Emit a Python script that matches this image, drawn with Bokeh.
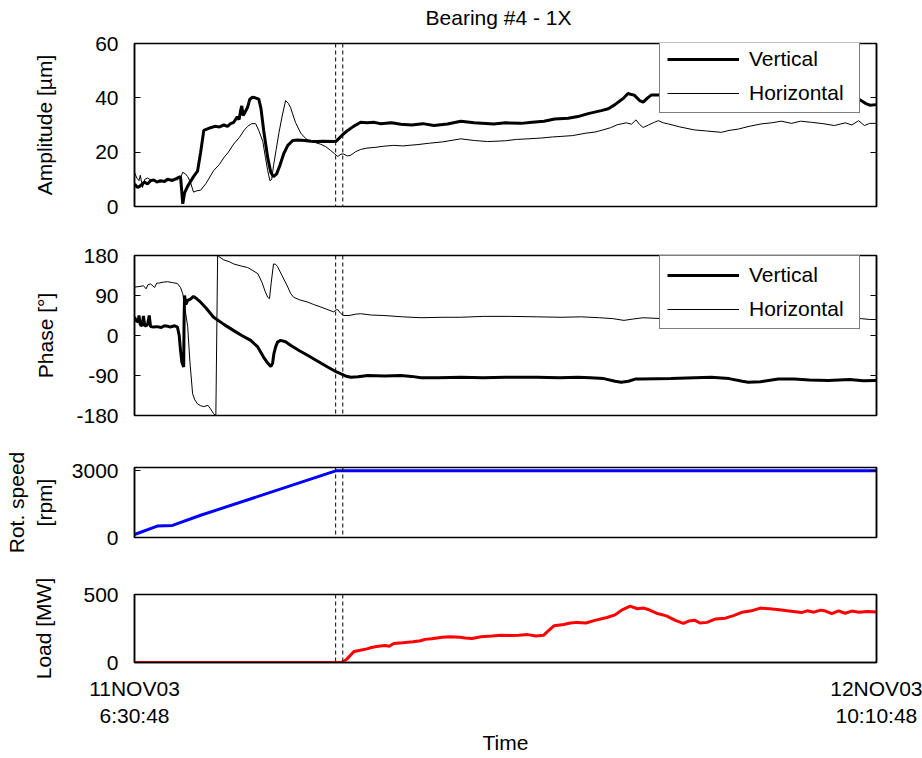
from bokeh.plotting import figure
from bokeh.layouts import column
from bokeh.models import Span, Range1d, FixedTicker, LinearAxis, Legend, LegendItem, Label
from bokeh.embed import file_html
from bokeh.resources import INLINE

FONT = "Liberation Sans"
FS = "21px"

# time axis: minutes since 11NOV03 6:30:48 (end 12NOV03 10:10:48 = 1660 min)
t_start, t_end = 0, 1660
x_tick_labels = {0: "11NOV03\n6:30:48", 1660: "12NOV03\n10:10:48"}
markers = [450, 466]
title_text = "Bearing #4 - 1X"

amp_v_t = [0, 7, 13, 22, 29, 36, 43, 50, 58, 67, 74, 85, 96, 103, 108, 112, 119, 132, 141, 148, 155, 162, 170, 180, 190, 200, 208, 215, 222, 230, 234, 237, 240, 243, 248, 253, 258, 264, 270, 278, 283, 289, 298, 305, 311, 318, 325, 334, 343, 354, 365, 380, 395, 410, 420, 450, 457, 466, 477, 490, 506, 520, 535, 550, 575, 596, 620, 645, 670, 700, 730, 760, 804, 830, 865, 890, 916, 940, 970, 992, 1015, 1044, 1060, 1075, 1082, 1095, 1104, 1112, 1118, 1130, 1138, 1148, 1156, 1174, 1200, 1260, 1350, 1450, 1550, 1620, 1635, 1645, 1660]
amp_v = [8.3, 7, 7.6, 9, 8.3, 9.5, 9.8, 9, 9.5, 9.2, 10, 9.6, 10.5, 11, 1, 5, 7.5, 11, 13, 20, 28, 28.5, 29, 29.5, 29.3, 30, 29.5, 30.5, 31, 33, 32, 35, 37, 33.5, 35, 36.5, 39.5, 40.2, 40, 39.5, 36, 28, 18, 12.5, 11, 12, 15, 19.5, 22.5, 24.3, 24.5, 24.3, 24, 23.9, 24, 23.9, 25, 26.5, 28, 29.5, 31, 30.8, 31, 30.5, 30.8, 30.3, 30, 30.5, 29.8, 30.4, 31.4, 30.8, 30.4, 30.8, 30.6, 31, 31.4, 32.2, 32.5, 33.1, 34.2, 35.3, 36, 37.5, 38.4, 40, 41.6, 41.2, 41, 39, 38.4, 40, 41, 41, 40, 39.5, 39.5, 39.5, 39.5, 39.6, 38, 37.3, 37.5]

amp_h_t = [0, 5, 10, 13, 18, 23, 29, 36, 43, 50, 58, 66, 74, 85, 96, 104, 108, 114, 119, 125, 132, 140, 148, 160, 177, 190, 200, 210, 222, 235, 245, 253, 262, 271, 278, 287, 293, 298, 303, 307, 311, 317, 323, 330, 338, 344, 349, 360, 372, 383, 394, 405, 417, 428, 439, 447, 455, 462, 468, 476, 484, 495, 506, 520, 540, 558, 580, 600, 634, 660, 690, 730, 760, 790, 804, 830, 855, 880, 910, 935, 954, 980, 1010, 1030, 1044, 1065, 1080, 1089, 1100, 1112, 1122, 1130, 1138, 1150, 1163, 1172, 1183, 1194, 1220, 1252, 1280, 1313, 1330, 1351, 1375, 1402, 1425, 1447, 1470, 1490, 1514, 1540, 1566, 1590, 1605, 1620, 1633, 1645, 1660]
amp_h = [12.6, 10.5, 9.5, 11.5, 7, 10, 10.5, 9.8, 9.5, 9.2, 9, 9.6, 9.5, 10, 9.8, 11, 12.6, 12, 11, 9, 5.3, 5.8, 6, 8.5, 13.2, 15.5, 18, 20, 23, 25.5, 28, 29.5, 30.5, 30.5, 28, 24, 18, 13.2, 9.5, 10, 15, 21, 27, 33, 39, 38, 36.5, 31, 27, 25, 24, 23.5, 22.9, 22, 20.6, 19.5, 18.4, 19.3, 19.3, 18.6, 18.9, 20.2, 21, 21.5, 21.8, 22.2, 22.5, 22.3, 22.8, 23.3, 23.8, 24.9, 24.3, 23.9, 24, 24.2, 24.7, 24.9, 25.2, 25.6, 25.8, 26.1, 27, 27.4, 28, 29, 30.1, 30.4, 30.8, 30.3, 31.9, 30.2, 29.1, 30, 31, 31.6, 30.8, 30.4, 29.3, 28.2, 27.8, 27.3, 28, 28.5, 29.5, 30.4, 30.8, 31.4, 30.6, 31.4, 31, 30.5, 29.8, 30.8, 30, 31.6, 29.8, 30.6, 30.6]

ph_v_t = [0, 4, 8, 10, 13, 17, 20, 23, 29, 33, 36, 43, 50, 60, 67, 74, 80, 90, 96, 100, 103, 106, 110, 111, 112, 115, 119, 125, 132, 140, 148, 160, 177, 200, 222, 240, 260, 275, 289, 298, 305, 309, 312, 316, 320, 327, 338, 349, 370, 388, 410, 432, 448, 461, 472, 484, 500, 522, 560, 596, 620, 641, 680, 730, 780, 830, 900, 950, 992, 1020, 1050, 1075, 1089, 1105, 1120, 1134, 1200, 1290, 1330, 1360, 1373, 1400, 1440, 1476, 1510, 1552, 1600, 1630, 1660]
ph_v = [41, 33, 30, 45, 24, 22, 44, 21, 24, 45, 20, 19, 20, 18, 22, 21, 19, 22, 19, 0, -34, -60, -71, 40, 90, 70, 79, 82, 88, 82, 75, 62, 41, 25, 11, 0, -11, -25, -49, -62, -70, -62, -40, -25, -15, -11, -14, -22, -35, -45, -58, -71, -80, -86, -91, -94, -93, -90, -91, -90, -92, -95, -95, -94, -95, -94, -94, -95, -94, -95, -97, -103, -105, -103, -98, -98, -97, -94, -97, -103, -105, -104, -98, -98, -100, -101, -99, -102, -101]

ph_h_t = [0, 10, 20, 26, 30, 36, 45, 50, 55, 64, 74, 85, 96, 103, 108, 113, 119, 124, 130, 135, 141, 148, 155, 164, 170, 177, 182, 186, 188, 200, 212, 222, 240, 253, 265, 276, 285, 292, 298, 302, 306, 311, 316, 320, 330, 343, 349, 356, 370, 388, 400, 417, 430, 446, 451, 455, 461, 468, 480, 495, 506, 530, 558, 600, 641, 690, 730, 780, 842, 900, 954, 1000, 1040, 1070, 1095, 1115, 1138, 1180, 1250, 1320, 1400, 1500, 1580, 1626, 1645, 1660]
ph_h = [109, 110, 112, 105, 114, 116, 108, 118, 118, 120, 121, 119, 117, 108, 94, 60, 20, -60, -131, -145, -154, -158, -160, -157, -165, -176, -180, 180, 178, 170, 166, 161, 156, 153, 146, 139, 120, 100, 86, 83, 120, 161, 160, 155, 135, 109, 95, 86, 80, 75, 70, 64, 59, 53, 58, 58, 50, 45, 45, 48, 49, 46, 45, 42, 40, 41, 41, 43, 43, 42, 41, 42, 40, 38, 34, 37, 40, 38, 38, 37, 36, 38, 38, 38, 36, 36]

speed_t = [0, 51, 85, 148, 450, 1660]
speed = [136, 514, 545, 1000, 3000, 3000]

load_t = [0, 460, 466, 475, 491, 505, 520, 530, 542, 560, 570, 580, 600, 623, 640, 650, 665, 688, 705, 728, 740, 755, 775, 800, 820, 840, 860, 880, 898, 915, 925, 939, 960, 975, 990, 1010, 1030, 1057, 1075, 1090, 1109, 1125, 1140, 1149, 1170, 1190, 1210, 1228, 1240, 1254, 1265, 1281, 1300, 1322, 1340, 1360, 1380, 1400, 1420, 1438, 1460, 1492, 1505, 1520, 1535, 1546, 1560, 1575, 1590, 1605, 1620, 1640, 1660]
load = [0, 0, 3, 25, 81, 90, 100, 110, 117, 125, 120, 140, 145, 152, 160, 170, 175, 186, 190, 186, 180, 176, 190, 195, 200, 199, 200, 205, 195, 200, 230, 271, 280, 290, 295, 290, 310, 331, 350, 385, 414, 395, 400, 390, 360, 343, 310, 288, 305, 310, 290, 295, 320, 326, 345, 370, 380, 400, 395, 390, 380, 367, 380, 370, 385, 378, 360, 380, 362, 378, 370, 375, 371]


def make_fig(height, top, bottom, yr, yticks, ylabel, label_standoff, show_x=False):
    p = figure(width=922, height=height, output_backend="svg", toolbar_location=None,
               x_range=Range1d(t_start, t_end), y_range=Range1d(*yr),
               min_border_left=134, min_border_right=46, min_border_top=top,
               min_border_bottom=bottom)
    p.grid.visible = False
    p.outline_line_color = "black"
    p.outline_line_width = 1.5
    p.outline_line_alpha = 1
    ya = p.yaxis[0]
    ya.ticker = FixedTicker(ticks=yticks)
    ya.major_label_overrides = {t: str(t) for t in yticks}
    ya.minor_tick_line_color = None
    ya.major_tick_in = 6
    ya.major_tick_out = 0
    ya.major_label_standoff = 16
    ya.major_label_text_font = FONT
    ya.major_label_text_font_size = FS
    ya.major_label_text_color = "black"
    ya.axis_label = ylabel
    ya.axis_label_text_font = FONT
    ya.axis_label_text_font_size = FS
    ya.axis_label_text_font_style = "normal"
    ya.axis_label_text_color = "black"
    ya.axis_label_standoff = label_standoff
    ya.axis_line_color = "black"
    ya.axis_line_width = 1.5
    ra = LinearAxis(ticker=FixedTicker(ticks=yticks), major_label_text_color=None,
                    major_label_text_font_size="1px",
                    major_tick_in=6, major_tick_out=0, minor_tick_line_color=None,
                    axis_line_color="black", axis_line_width=1.5, major_label_standoff=0)
    p.add_layout(ra, "right")
    xa = p.xaxis[0]
    if show_x:
        xa.ticker = FixedTicker(ticks=[t_start, t_end])
        xa.major_label_overrides = x_tick_labels
        xa.major_tick_in = 0
        xa.major_tick_out = 0
        xa.minor_tick_line_color = None
        xa.major_label_standoff = 14
        xa.major_label_text_font = FONT
        xa.major_label_text_font_size = FS
        xa.major_label_text_color = "black"
        xa.axis_label = "Time"
        xa.axis_label_text_font = FONT
        xa.axis_label_text_font_size = FS
        xa.axis_label_text_font_style = "normal"
        xa.axis_label_text_color = "black"
        xa.axis_label_standoff = 1
        xa.axis_line_color = "black"
        xa.axis_line_width = 1.5
    else:
        xa.visible = False
    for m in markers:
        p.add_layout(Span(location=m, dimension="height", line_color="black",
                          line_width=1, line_dash="4 3"))
    return p


def add_legend(p, rv, rh, loc):
    lg = Legend(items=[LegendItem(label="Vertical", renderers=[rv]),
                       LegendItem(label="Horizontal", renderers=[rh])],
                location=loc, border_line_color="black", border_line_width=1,
                background_fill_color="white", background_fill_alpha=1,
                label_text_font=FONT, label_text_font_size=FS, label_text_color="black",
                glyph_width=72, glyph_height=22, label_height=22, label_width=103,
                label_standoff=10, padding=7, spacing=10, margin=0)
    p.add_layout(lg)


# title strip (its frame is aligned with the panels below by the column layout)
p0 = figure(width=922, height=30, output_backend="svg", toolbar_location=None,
            x_range=Range1d(0, 1), y_range=Range1d(0, 1),
            min_border_left=0, min_border_right=0, min_border_top=0, min_border_bottom=0)
p0.axis.visible = False
p0.grid.visible = False
p0.outline_line_color = None
p0.add_layout(Label(x=364, y=13, x_units="screen", y_units="screen", text=title_text,
                    text_align="center", text_baseline="alphabetic", text_font=FONT,
                    text_font_size=FS, text_color="black"))

p1 = make_fig(191, 13, 15, (0, 60), [0, 20, 40, 60], "Amplitude [µm]", 36)
r1v = p1.line(amp_v_t, amp_v, line_color="black", line_width=3)
r1h = p1.line(amp_h_t, amp_h, line_color="black", line_width=1)
add_legend(p1, r1v, r1h, (525, 93))

p2 = make_fig(209, 34, 15, (-180, 180), [-180, -90, 0, 90, 180], "Phase [°]", 16)
r2v = p2.line(ph_v_t, ph_v, line_color="black", line_width=3)
r2h = p2.line(ph_h_t, ph_h, line_color="black", line_width=1)
add_legend(p2, r2v, r2h, (525, 86))

p3 = make_fig(132, 37, 25, (0, 3150), [0, 3000], "Rot. speed\n[rpm]", 13)
p3.line(speed_t, speed, line_color="#0000ff", line_width=3)

p4 = make_fig(196, 32, 96, (0, 500), [0, 500], "Load [MW]", 25, show_x=True)
p4.line(load_t, load, line_color="#ff0000", line_width=3)

layout = column(p0, p1, p2, p3, p4, spacing=0)
open("out.html", "w").write(file_html(layout, INLINE))
